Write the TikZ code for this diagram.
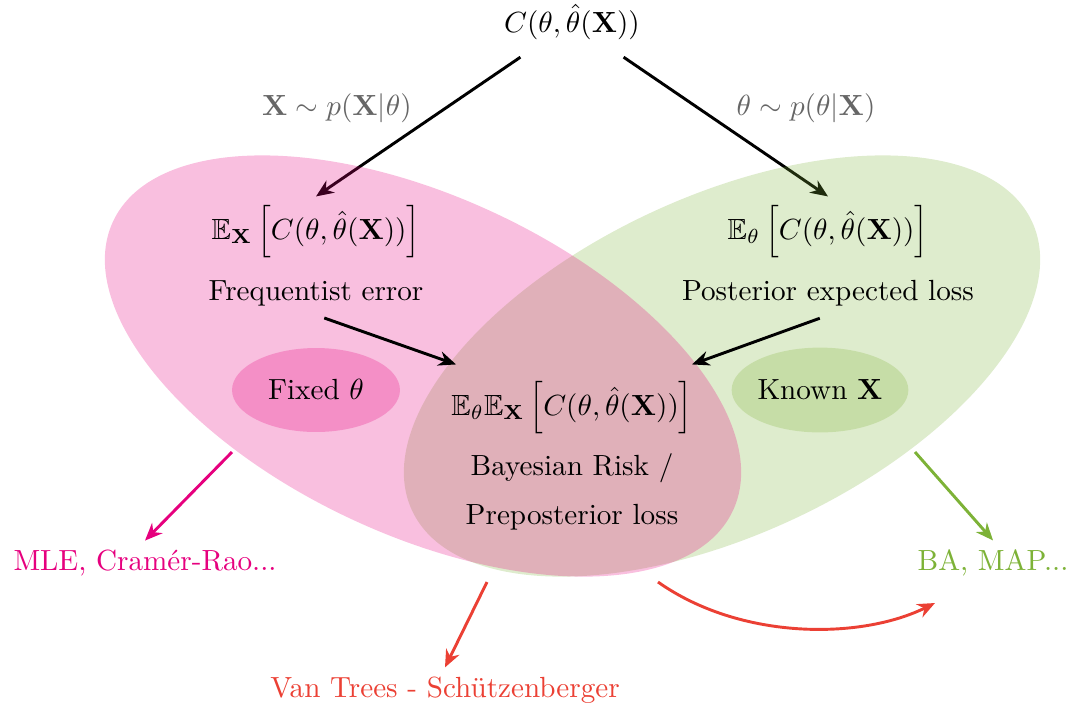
\documentclass[tikz,border=0pt]{standalone}
\usepackage{amsmath,amssymb}
\usepackage{tikz}
\usetikzlibrary{arrows.meta,shapes.geometric}
\usepackage{xcolor}
\definecolor{freqpink}{RGB}{230,0,126}
\definecolor{bayesgreen}{RGB}{125,178,55}
\definecolor{boundred}{RGB}{235,64,52}
\pgfdeclarelayer{back}
\pgfdeclarelayer{blobs}
\pgfsetlayers{back,blobs,main}

\begin{document}
\begin{tikzpicture}[
  x=0.01206cm,y=-0.01206cm,
  lbl/.style={inner sep=3pt, align=center},
  cond/.style={lbl, text=black!60},
  blob/.style={fill opacity=0.25},
  tag/.style={ellipse, fill opacity=0.25, text opacity=1, inner sep=0pt},
  arrow/.style={-{Stealth[length=6pt,width=5pt]}, line width=1pt}
]
  \useasboundingbox (0,0) rectangle (1082,708);

  % cost and the two expectations
  \node[lbl] (cost) at (572,22) {$C(\theta,\hat{\theta}(\mathbf{X}))$};
  \node[lbl] (freq) at (316,232)
    {$\mathbb{E}_{\mathbf{X}}\,\Big[C(\theta,\hat{\theta}(\mathbf{X}))\Big]$};
  \node[lbl] (freqtxt) at (316,293) {Frequentist error};
  \node[lbl] (post) at (828,232)
    {$\mathbb{E}_{\theta}\,\Big[C(\theta,\hat{\theta}(\mathbf{X}))\Big]$};
  \node[lbl] (posttxt) at (828,293) {Posterior expected loss};
  \node[cond] (lik) at (337,108) {$\mathbf{X}\sim p(\mathbf{X}|\theta)$};
  \node[cond] (postlaw) at (806,108) {$\theta\sim p(\theta|\mathbf{X})$};

  % both together
  \node[lbl] (risk) at (572,408)
    {$\mathbb{E}_{\theta}\mathbb{E}_{\mathbf{X}}\,\Big[C(\theta,\hat{\theta}(\mathbf{X}))\Big]$};
  \node[lbl] (risktxt) at (572,468) {Bayesian Risk /};
  \node[lbl] (preptxt) at (572,517) {Preposterior loss};

  \node[tag, fill=freqpink, minimum width=57.6pt, minimum height=28.8pt]
    (fixed) at (316,390) {Fixed $\theta$};
  \node[tag, fill=bayesgreen, minimum width=52.8pt, minimum height=29.1pt]
    (known) at (820,390) {Known $\mathbf{X}$};

  \begin{pgfonlayer}{back}
    \draw[arrow, shorten <=5pt] (cost) -- (freq.north);
    \draw[arrow, shorten <=5pt] (cost) -- (post.north);
  \end{pgfonlayer}
  \begin{pgfonlayer}{blobs}
    \fill[bayesgreen, blob, rotate around={25:(722,366)}]
      (722,366) ellipse [x radius=342, y radius=169];
    \fill[freqpink, blob, rotate around={-25:(423,366)}]
      (423,366) ellipse [x radius=342, y radius=169];
  \end{pgfonlayer}

  \draw[arrow, shorten <=3pt] (freqtxt.south) -- ([shift={(14,-8)}]risk.north west);
  \draw[arrow, shorten <=3pt] (posttxt.south) -- ([shift={(-10,-8)}]risk.north east);

  % estimators and bounds
  \node[lbl, text=freqpink] (mle) at (145,563) {MLE, Cram\'er-Rao...};
  \node[lbl, text=bayesgreen] (map) at (993,563) {BA, MAP...};
  \node[lbl, text=boundred] (vtrees) at (445,690) {Van Trees - Sch\"utzenberger};

  \coordinate (pinkrim) at (232,452);
  \coordinate (greenrim) at (915,452);
  \coordinate (lensleft) at (487,582);
  \coordinate (lensright) at (658,582);
  \coordinate (mapfoot) at (935,603);
  \draw[arrow, freqpink] (pinkrim) -- (mle.north);
  \draw[arrow, bayesgreen] (greenrim) -- (map.north);
  \draw[arrow, boundred] (lensleft) -- (vtrees.north);
  \draw[arrow, boundred] (lensright) .. controls (740,640) and (860,640) .. (mapfoot);
\end{tikzpicture}
\end{document}
